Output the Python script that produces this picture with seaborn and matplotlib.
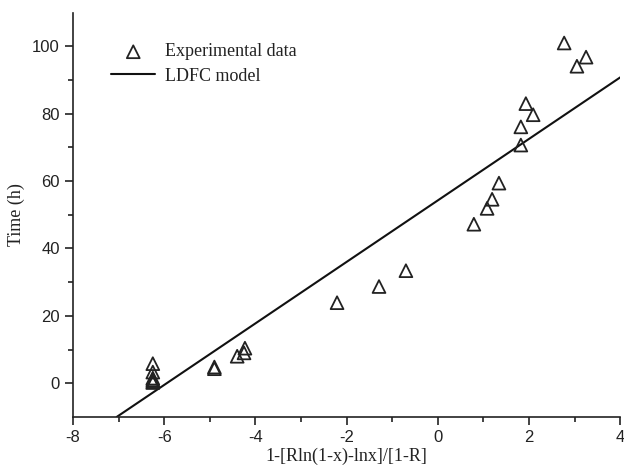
import matplotlib
matplotlib.use("Agg")
import matplotlib.pyplot as plt
import seaborn as sns
import pandas as pd
import numpy as np

exp_x = [-6.25, -6.25, -6.25, -6.25, -6.25, -6.25,
         -4.90, -4.90, -4.40, -4.25, -4.23,
         -2.21, -1.29, -0.70, 0.79, 1.08, 1.19, 1.34,
         1.82, 1.82, 1.93, 2.09, 2.77, 3.05, 3.25]
exp_y = [5.8, 3.3, 1.5, 1.0, 0.5, 0.2,
         4.8, 4.3, 8.0, 9.0, 10.4,
         23.9, 28.7, 33.4, 47.2, 51.9, 54.6, 59.4,
         70.7, 76.1, 83.0, 79.7, 101.0, 94.1, 96.8]

# LDFC model line endpoints
model_x = [-7.04, 4.0]
model_y = [-10.0, 90.8]

x_ticks = [-8, -6, -4, -2, 0, 2, 4]
y_ticks = [0, 20, 40, 60, 80, 100]

sns.set_theme(style="ticks")
plt.rcParams['font.family'] = ['Liberation Sans', 'DejaVu Sans']
plt.rcParams['axes.unicode_minus'] = False

fig = plt.figure(figsize=(6.24, 4.70), dpi=100)
ax = fig.add_axes([0.117, 0.113, 0.877, 0.860])

df_exp = pd.DataFrame({"x": exp_x, "y": exp_y})
df_mod = pd.DataFrame({"x": model_x, "y": model_y})

sns.lineplot(data=df_mod, x="x", y="y", ax=ax, color="#111111", lw=1.5,
             label="LDFC model")
sns.scatterplot(data=df_exp, x="x", y="y", ax=ax, marker="^", s=85,
                facecolor="none", edgecolor="#222222", linewidth=1.3,
                label="Experimental data", zorder=3)

ax.set_xlim(-8, 4)
ax.set_ylim(-10, 110)
ax.set_xticks(x_ticks)
ax.set_yticks(y_ticks)
ax.set_xticks(np.arange(-7, 4, 2), minor=True)
ax.set_yticks(np.arange(10, 110, 20), minor=True)
ax.tick_params(axis='both', which='major', direction='out', length=6, width=1.2,
               labelsize=12, color='#222222', labelcolor='#222222')
ax.tick_params(axis='both', which='minor', direction='out', length=3.5, width=1.2,
               color='#222222')
for s in ['top', 'right']:
    ax.spines[s].set_visible(False)
for s in ['left', 'bottom']:
    ax.spines[s].set_linewidth(1.2)
    ax.spines[s].set_color('#222222')

serif = ['Liberation Serif', 'DejaVu Serif']
ax.set_xlabel("1-[Rln(1-x)-lnx]/[1-R]", family=serif, fontsize=13, color='#222222', labelpad=2)
ax.set_ylabel("Time (h)", family=serif, fontsize=13, color='#222222', labelpad=5)

handles, labels = ax.get_legend_handles_labels()
order = [labels.index("Experimental data"), labels.index("LDFC model")]
leg = ax.legend([handles[i] for i in order], [labels[i] for i in order],
                loc="upper left", bbox_to_anchor=(0.04, 0.964), frameon=False,
                prop={'family': serif, 'size': 13}, handlelength=2.45,
                handletextpad=0.55, labelspacing=0.4)
for t in leg.get_texts():
    t.set_color('#222222')

fig.savefig("out.png", dpi=100)
